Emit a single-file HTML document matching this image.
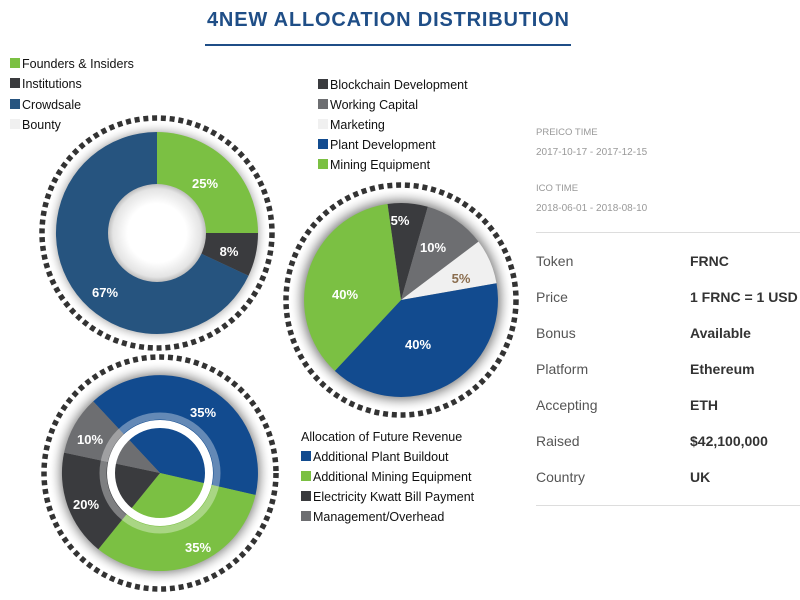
<!DOCTYPE html>
<html><head><meta charset="utf-8"><style>
html,body{margin:0;padding:0;background:#fff;width:800px;height:600px;overflow:hidden;font-family:"Liberation Sans",sans-serif}
</style></head><body>
<svg width="800" height="600" viewBox="0 0 800 600" xmlns="http://www.w3.org/2000/svg" font-family="Liberation Sans, sans-serif">
<defs>
<radialGradient id="sh" cx="0.5" cy="0.5" r="0.5">
<stop offset="0.84" stop-color="#888"/><stop offset="0.9" stop-color="#c8c8c8"/><stop offset="1" stop-color="#fff" stop-opacity="0"/>
</radialGradient>
<radialGradient id="hole" cx="0.5" cy="0.5" r="0.5">
<stop offset="0.6" stop-color="#fff"/><stop offset="0.9" stop-color="#e4e4e4"/><stop offset="1" stop-color="#bdbdbd"/>
</radialGradient>
</defs>
<text x="388" y="26" text-anchor="middle" font-size="20" font-weight="bold" fill="#1f4e87" textLength="362">4NEW ALLOCATION DISTRIBUTION</text>
<rect x="205" y="44" width="366" height="2" fill="#1f4e87"/>

<g font-size="12.5" fill="#111">
<rect x="10" y="58" width="10" height="10" fill="#7bc043"/><text x="22" y="68">Founders &amp; Insiders</text>
<rect x="10" y="78" width="10" height="10" fill="#3a3b3e"/><text x="22" y="88">Institutions</text>
<rect x="10" y="99" width="10" height="10" fill="#26547f"/><text x="22" y="109">Crowdsale</text>
<rect x="10" y="119" width="10" height="10" fill="#f0f0f0"/><text x="22" y="129">Bounty</text>

<rect x="318" y="79" width="10" height="10" fill="#3a3b3e"/><text x="330" y="89">Blockchain Development</text>
<rect x="318" y="99" width="10" height="10" fill="#6d6e71"/><text x="330" y="109">Working Capital</text>
<rect x="318" y="119" width="10" height="10" fill="#f0f0f0"/><text x="330" y="129">Marketing</text>
<rect x="318" y="139" width="10" height="10" fill="#124b8f"/><text x="330" y="149">Plant Development</text>
<rect x="318" y="159" width="10" height="10" fill="#7bc043"/><text x="330" y="169">Mining Equipment</text>

<text x="301" y="441">Allocation of Future Revenue</text>
<rect x="301" y="451" width="10" height="10" fill="#124b8f"/><text x="313" y="461">Additional Plant Buildout</text>
<rect x="301" y="471" width="10" height="10" fill="#7bc043"/><text x="313" y="481">Additional Mining Equipment</text>
<rect x="301" y="491" width="10" height="10" fill="#3a3b3e"/><text x="313" y="501">Electricity Kwatt Bill Payment</text>
<rect x="301" y="511" width="10" height="10" fill="#6d6e71"/><text x="313" y="521">Management/Overhead</text>
</g>

<!-- Chart 1 -->
<circle cx="157" cy="233" r="112" fill="url(#sh)"/>
<circle cx="157" cy="233" r="115" fill="none" stroke="#333" stroke-width="5.5" stroke-dasharray="5 3.8"/>
<path d="M157,233 L157,132 A101,101 0 0 1 258,233 Z" fill="#7bc043"/>
<path d="M157,233 L258,233 A101,101 0 0 1 248.5,275.7 Z" fill="#3a3b3e"/>
<path d="M157,233 L248.5,275.7 A101,101 0 1 1 157,132 Z" fill="#26547f"/>
<circle cx="157" cy="233" r="49" fill="url(#hole)"/>
<g font-size="13" font-weight="bold" fill="#fff" text-anchor="middle">
<text x="205" y="188">25%</text><text x="229" y="256">8%</text><text x="105" y="297">67%</text>
</g>

<!-- Chart 2 -->
<circle cx="401" cy="300" r="112" fill="url(#sh)"/>
<circle cx="401" cy="300" r="115" fill="none" stroke="#333" stroke-width="5.5" stroke-dasharray="5 3.8"/>
<path d="M401,300 L387.5,204 A97,97 0 0 1 427.8,206.8 Z" fill="#3a3b3e"/>
<path d="M401,300 L427.8,206.8 A97,97 0 0 1 478.5,241.6 Z" fill="#6d6e71"/>
<path d="M401,300 L478.5,241.6 A97,97 0 0 1 496.5,283.2 Z" fill="#f0f0f0"/>
<path d="M401,300 L496.5,283.2 A97,97 0 0 1 334.8,370.9 Z" fill="#124b8f"/>
<path d="M401,300 L334.8,370.9 A97,97 0 0 1 387.5,204 Z" fill="#7bc043"/>
<g font-size="13" font-weight="bold" fill="#fff" text-anchor="middle">
<text x="400" y="225">5%</text><text x="433" y="252">10%</text><text x="461" y="283" fill="#8a6d4e">5%</text>
<text x="345" y="299">40%</text><text x="418" y="349">40%</text>
</g>

<!-- Chart 3 -->
<circle cx="160" cy="473" r="112" fill="url(#sh)"/>
<circle cx="160" cy="473" r="116" fill="none" stroke="#333" stroke-width="5.5" stroke-dasharray="5 3.8"/>
<path d="M160,473 L93.2,401.4 A98,98 0 0 1 255.5,495 Z" fill="#124b8f"/>
<path d="M160,473 L255.5,495 A98,98 0 0 1 98.3,549.2 Z" fill="#7bc043"/>
<path d="M160,473 L98.3,549.2 A98,98 0 0 1 64.1,452.6 Z" fill="#3a3b3e"/>
<path d="M160,473 L64.1,452.6 A98,98 0 0 1 93.2,401.4 Z" fill="#6d6e71"/>
<circle cx="160" cy="473" r="57" fill="none" stroke="#fff" stroke-opacity="0.35" stroke-width="7"/>
<circle cx="160" cy="473" r="49" fill="none" stroke="#fff" stroke-width="8"/>
<g font-size="13" font-weight="bold" fill="#fff" text-anchor="middle">
<text x="203" y="417">35%</text><text x="90" y="444">10%</text><text x="86" y="509">20%</text><text x="198" y="552">35%</text>
</g>

<!-- Right panel -->
<g fill="#999">
<text x="536" y="135" font-size="9.5">PREICO TIME</text>
<text x="536" y="155" font-size="10">2017-10-17 - 2017-12-15</text>
<text x="536" y="191" font-size="9.5">ICO TIME</text>
<text x="536" y="211" font-size="10">2018-06-01 - 2018-08-10</text>
</g>
<rect x="536" y="232" width="264" height="1" fill="#ddd"/>
<g font-size="14">
<g fill="#555">
<text x="536" y="266">Token</text><text x="536" y="302">Price</text><text x="536" y="338">Bonus</text>
<text x="536" y="374">Platform</text><text x="536" y="410">Accepting</text><text x="536" y="446">Raised</text><text x="536" y="482">Country</text>
</g>
<g fill="#333" font-weight="bold">
<text x="690" y="266">FRNC</text><text x="690" y="302">1 FRNC = 1 USD</text><text x="690" y="338">Available</text>
<text x="690" y="374">Ethereum</text><text x="690" y="410">ETH</text><text x="690" y="446">$42,100,000</text><text x="690" y="482">UK</text>
</g>
</g>
<rect x="536" y="505" width="264" height="1" fill="#ddd"/>
</svg>
</body></html>
